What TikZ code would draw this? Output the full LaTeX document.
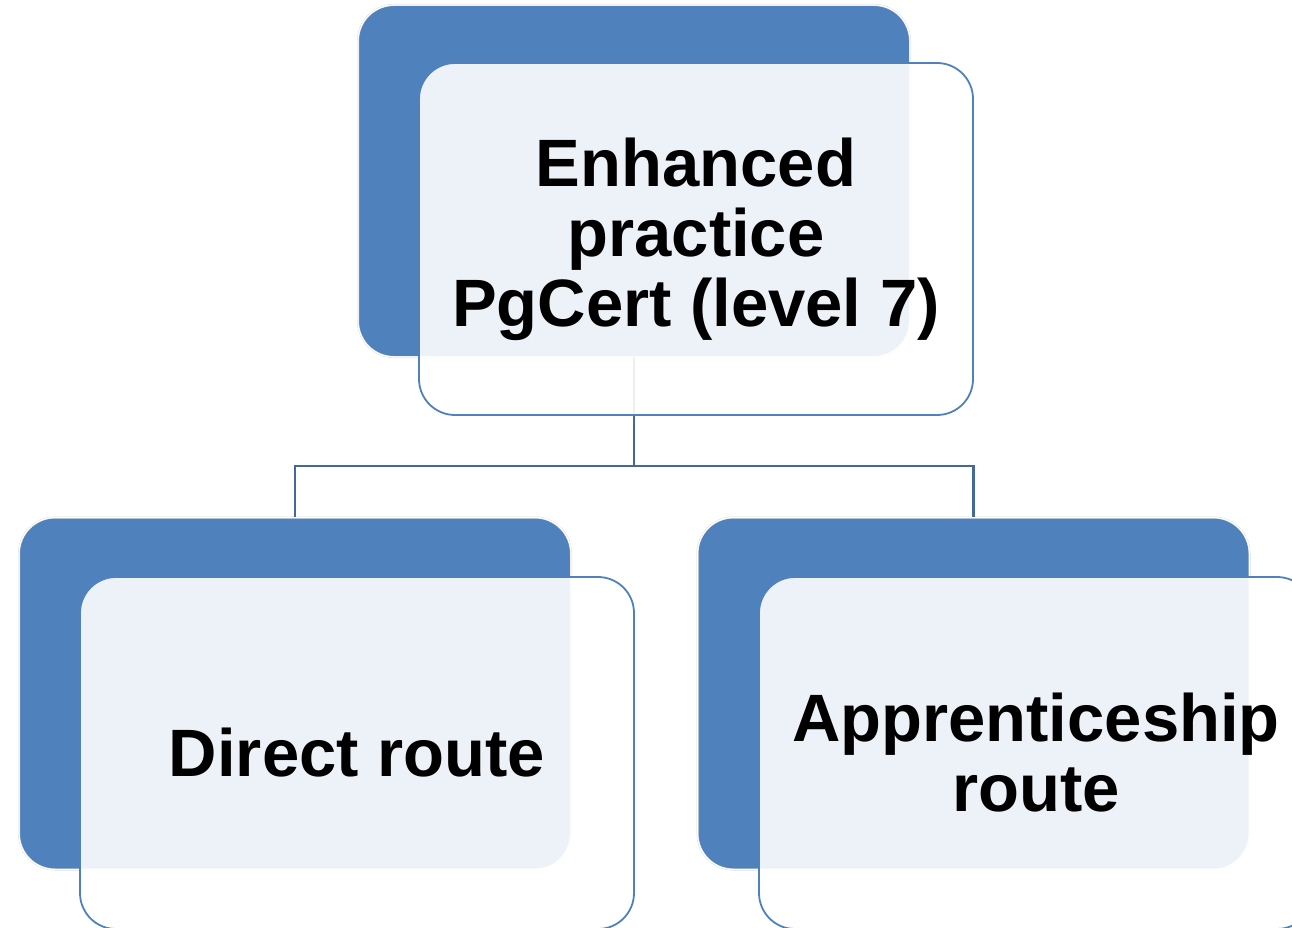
\documentclass[tikz,border=0pt]{standalone}
\usepackage{fontspec}
\setmainfont{Liberation Sans}
\usetikzlibrary{positioning}
\definecolor{boxblue}{HTML}{4F81BD}
\definecolor{linkblue}{HTML}{41699A}

\begin{document}
\begin{tikzpicture}[x=1pt, y=-1pt,
					backbox/.style={draw=black!15, double=white, double distance=1.2pt,
						line width=0.4pt, fill=boxblue, rounded corners=36pt,
						minimum width=552pt, minimum height=352pt},
					frontbox/.style={draw=boxblue, line width=1.8pt, fill=white, fill opacity=0.9,
						text opacity=1, rounded corners=36pt, align=center,
						minimum width=554pt, minimum height=352pt,
						font=\fontsize{67}{70}\selectfont\bfseries},
					link/.style={draw=linkblue, line width=2.2pt}]
				\useasboundingbox (0,0) rectangle (1292,928);
				\clip (0,0) rectangle (1292,928);
				% back panels
				\node[backbox] (pgback) at (634,181) {};
				\node[backbox] (directback) at (295,693.5) {};
				\node[backbox] (appback) at (973.5,693.5) {};
				% links
				\coordinate (fork) at (634,466);
				\draw[link] (pgback.south) -- (fork) -| (directback.north);
				\draw[link] (fork) -| (appback.north);
				% front panels
				\node[frontbox] (pg) at (696,239) {Enhanced\\practice\\PgCert (level 7)};
				\node[frontbox] (direct) at (357,753) {Direct route};
				\node[frontbox] (app) at (1036,753) {Apprenticeship\\route};
			\end{tikzpicture}
\end{document}
